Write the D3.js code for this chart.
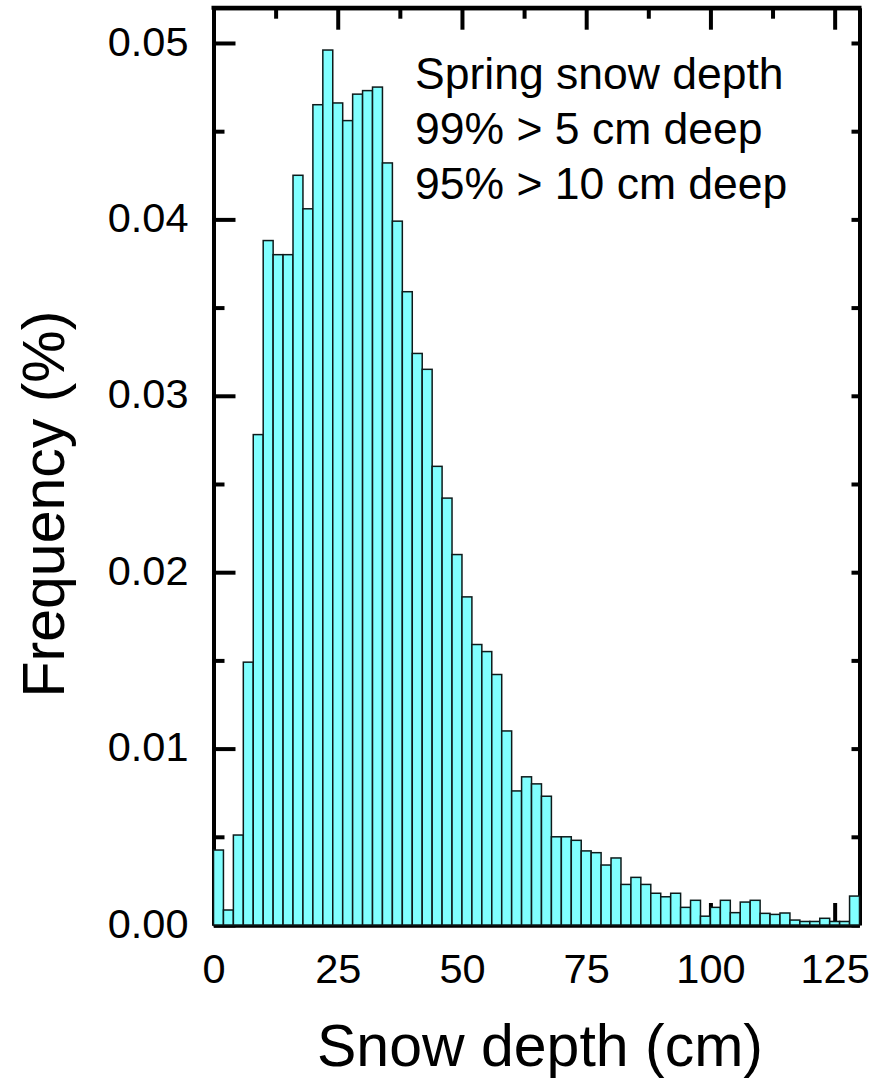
<!DOCTYPE html>
<html>
<head>
<meta charset="utf-8">
<script src="https://cdn.jsdelivr.net/npm/d3@7"></script>
<style>
  html, body { margin: 0; padding: 0; background: #fff; }
  svg { display: block; font-family: "Liberation Sans", Arial, Helvetica, sans-serif; }
</style>
</head>
<body>
<svg id="chart" width="888" height="1081"></svg>
<script>
// Histogram of spring snow depth, 2 cm bins from 0 to 130 cm
const binWidth = 2;
const binStarts = d3.range(0, 130, binWidth);
const frequency = [
  0.00425, 0.00085, 0.0051, 0.0149, 0.0278, 0.0388, 0.0380, 0.0380, 0.0425, 0.0406,
  0.0465, 0.0496, 0.0466, 0.0456, 0.0471, 0.0473, 0.0475, 0.0432, 0.0399, 0.0359,
  0.0324, 0.0315, 0.0260, 0.0242, 0.0210, 0.0186, 0.0159, 0.0155, 0.0142, 0.0110,
  0.0076, 0.0084, 0.0080, 0.0073, 0.0050, 0.0050, 0.0048, 0.0042, 0.0041, 0.0034,
  0.0038, 0.0023, 0.0027, 0.0023, 0.0018, 0.0016, 0.0018, 0.0010, 0.0014, 0.0005,
  0.0010, 0.0014, 0.0007, 0.0013, 0.0014, 0.00066, 0.0006, 0.00068, 0.00028, 0.0002,
  0.0002, 0.00038, 0.0002, 0.0002, 0.00164
];
const xMajorTicks = [0, 25, 50, 75, 100, 125];
const xMinorTicks = [12.5, 37.5, 62.5, 87.5, 112.5];
const yMajorTicks = [0, 0.01, 0.02, 0.03, 0.04, 0.05];
const yMinorTicks = [0.005, 0.015, 0.025, 0.035, 0.045];
const yAllTicks = [0, 0.005, 0.01, 0.015, 0.02, 0.025, 0.03, 0.035, 0.04, 0.045, 0.05];
const xTitle = "Snow depth (cm)";
const yTitle = "Frequency (%)";
const noteLines = ["Spring snow depth", "99% > 5 cm deep", "95% > 10 cm deep"];

const margin = { left: 213.5, top: 7.7, right: 888 - 859.5, bottom: 1081 - 925 };
const W = 888 - margin.left - margin.right;
const H = 1081 - margin.top - margin.bottom;

const svg = d3.select("#chart");
const g = svg.append("g").attr("transform", `translate(${margin.left},${margin.top})`);

const x = d3.scaleLinear().domain([0, 130]).range([0, W]);
const y = d3.scaleLinear().domain([0, 0.052]).range([H, 0]);

const tickFont = 41.5;
const spineW = 4;

function styleAxis(sel) {
  sel.selectAll("path.domain").attr("stroke", "#000").attr("stroke-width", spineW);
  sel.selectAll(".tick line").attr("stroke", "#000").attr("stroke-width", spineW);
  sel.selectAll(".tick text").attr("fill", "#000").attr("font-size", tickFont)
    .attr("font-family", "'Liberation Sans', Arial, sans-serif");
}

// Bottom axis: labelled majors, inward ticks
g.append("g").attr("transform", `translate(0,${H})`)
  .call(d3.axisBottom(x).tickValues(xMajorTicks).tickSize(-22).tickSizeOuter(0)
    .tickPadding(29).tickFormat(d3.format("d")))
  .call(styleAxis);
g.append("g").attr("transform", `translate(0,${H})`)
  .call(d3.axisBottom(x).tickValues(xMinorTicks).tickSize(-11).tickSizeOuter(0).tickFormat(""))
  .call(styleAxis);

// Top axis: ticks only
g.append("g")
  .call(d3.axisTop(x).tickValues(xMajorTicks.filter(d => d > 0)).tickSize(-22).tickSizeOuter(0).tickFormat(""))
  .call(styleAxis);
g.append("g")
  .call(d3.axisTop(x).tickValues(xMinorTicks).tickSize(-11).tickSizeOuter(0).tickFormat(""))
  .call(styleAxis);

// Left axis: labelled majors
g.append("g")
  .call(d3.axisLeft(y).tickValues(yMajorTicks).tickSize(-22).tickSizeOuter(0)
    .tickPadding(25).tickFormat(d3.format(".2f")))
  .call(styleAxis)
  .call(s => s.selectAll(".tick text").attr("dy", "0.29em"));
g.append("g")
  .call(d3.axisLeft(y).tickValues(yMinorTicks).tickSize(-11).tickSizeOuter(0).tickFormat(""))
  .call(styleAxis);

// Right axis: short ticks only
g.append("g").attr("transform", `translate(${W},0)`)
  .call(d3.axisRight(y).tickValues(yAllTicks).tickSize(-8).tickSizeOuter(0).tickFormat(""))
  .call(styleAxis);

// Top border line
g.append("line")
  .attr("x1", 0).attr("x2", W).attr("y1", 0).attr("y2", 0)
  .attr("stroke", "#000").attr("stroke-width", spineW).attr("stroke-linecap", "square");

// Histogram bars, drawn over the axes
g.append("g").selectAll("rect")
  .data(binStarts.map((s, i) => ({ start: s, value: frequency[i] })))
  .join("rect")
  .attr("x", d => x(d.start))
  .attr("y", d => y(d.value))
  .attr("width", d => x(d.start + binWidth) - x(d.start))
  .attr("height", d => y(0) - y(d.value))
  .attr("fill", "#80ffff")
  .attr("stroke", "#0d1a1a")
  .attr("stroke-width", 1.5);

// Axis titles
svg.append("text")
  .attr("x", 540).attr("y", 1066)
  .attr("text-anchor", "middle")
  .attr("font-size", 59)
  .attr("fill", "#000")
  .text(xTitle);

svg.append("text")
  .attr("transform", "translate(63.5,504) rotate(-90)")
  .attr("text-anchor", "middle")
  .attr("font-size", 59)
  .attr("fill", "#000")
  .text(yTitle);

// Annotation
const note = svg.append("text")
  .attr("font-size", 44.5)
  .attr("fill", "#000");
noteLines.forEach((line, i) => {
  note.append("tspan").attr("x", 415).attr("y", 89 + i * 55).text(line);
});
</script>
</body>
</html>
